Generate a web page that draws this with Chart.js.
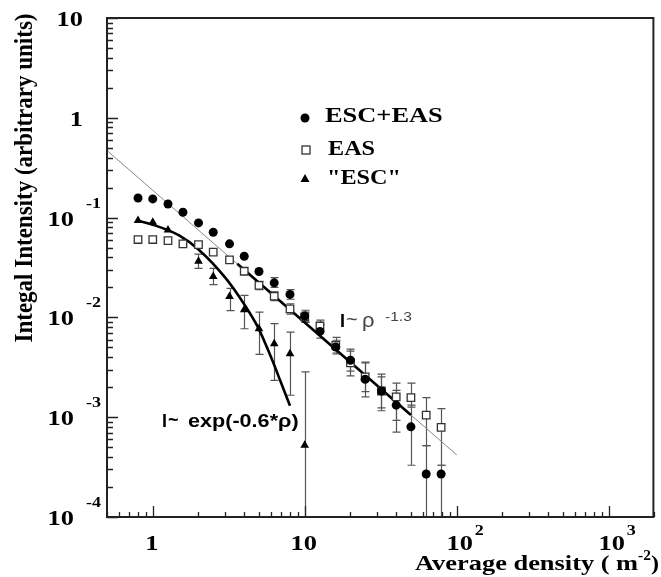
<!DOCTYPE html>
<html>
<head>
<meta charset="utf-8">
<script src="https://cdn.jsdelivr.net/npm/chart.js@4.4.1/dist/chart.umd.min.js"></script>
<style>
  html, body { margin: 0; padding: 0; background: #fff; }
</style>
</head>
<body>
<canvas id="chart" width="661" height="577"></canvas>
<script>
// average density bins (m^-2)
const densities = [0.8, 1.0, 1.26, 1.58, 2.0, 2.5, 3.2, 4.0, 5.0, 6.3, 8.0, 10, 12.6, 16, 20, 25, 32, 40, 50, 63, 79];

// ESC+EAS (filled circles)
const escEasValues = [0.157, 0.154, 0.137, 0.113, 0.0885, 0.0713, 0.0546, 0.041, 0.0288, 0.0222, 0.017, 0.0103, 0.00724, 0.00505, 0.00372, 0.0024, 0.00183, 0.00132, 0.0008, 0.00027, 0.00027];
const escEasLow  = [null, null, null, null, null, null, null, null, null, 0.020, 0.0152, 0.0089, 0.0062, 0.0043, 0.0029, 0.0016, 0.00116, 0.00093, 0.00033, 1e-6, 1e-6];
const escEasHigh = [null, null, null, null, null, null, null, null, null, 0.025, 0.019, 0.0118, 0.0085, 0.0059, 0.0048, 0.00357, 0.00253, 0.00186, 0.00132, 0.00052, 0.00033];

// EAS (open squares)
const easValues = [0.0603, 0.0603, 0.0589, 0.0546, 0.0537, 0.045, 0.0377, 0.029, 0.0209, 0.0163, 0.0122, 0.0101, 0.0082, 0.00525, 0.0035, 0.00253, 0.00183, 0.0016, 0.00157, 0.00105, 0.00079];
const easLow  = [null, null, null, null, null, null, null, null, 0.019, 0.0147, 0.0108, 0.009, 0.0072, 0.0044, 0.0026, 0.0018, 0.00124, 0.00071, 0.00126, 0.00052, 0.00033];
const easHigh = [null, null, null, null, null, null, null, null, 0.023, 0.018, 0.0137, 0.0113, 0.0094, 0.0063, 0.0046, 0.0035, 0.0027, 0.0022, 0.0022, 0.00157, 0.00122];

// "ESC" (triangles)
const escDensities = [0.8, 1.0, 1.26, 1.58, 2.0, 2.5, 3.2, 4.0, 5.0, 6.3, 8.0, 10];
const escValues = [0.0933, 0.0898, 0.0753, 0.0546, 0.0366, 0.0257, 0.0162, 0.0119, 0.0077, 0.00546, 0.00433, 0.000525];
const escLow  = [null, null, null, null, 0.031, 0.0213, 0.0117, 0.0077, 0.00427, 0.00234, 0.00166, 1e-6];
const escHigh = [null, null, null, null, 0.043, 0.031, 0.0195, 0.0166, 0.0113, 0.00865, 0.00713, 0.00284];

// fitted curves
const powerLawX = [0.5, 100];
const powerLawY = [0.47, 0.00042];
const powerLawBoldX = [3.6, 50];
const powerLawBoldY = [0.0345, 0.00105];
const expFitX = [0.8, 1, 1.5, 2, 3, 4, 5, 6, 7, 8];
const expFitY = [0.093, 0.085, 0.066, 0.048, 0.025, 0.0135, 0.0076, 0.0040, 0.0022, 0.0013];

// tick labels
const xTicks = [1, 10, 100, 1000];
const xTickBase = ['1', '10', '10', '10'];
const xTickExp = ['', '', '2', '3'];
const yTicks = [10, 1, 0.1, 0.01, 0.001, 0.0001];
const yTickBase = ['10', '1', '10', '10', '10', '10'];
const yTickExp = ['', '', '-1', '-2', '-3', '-4'];

const SERIF = "'Liberation Serif', 'Times New Roman', serif";
const SANS = "'Liberation Sans', Arial, sans-serif";

function pts(xs, ys) {
    return xs.map((x, i) => ({ x: x, y: ys[i] }));
}

function txt(ctx, str, x, y, font, o) {
    o = o || {};
    ctx.save();
    ctx.translate(x, y);
    if (o.rot) ctx.rotate(o.rot);
    ctx.scale(o.sx || 1, o.sy || 1);
    ctx.font = font;
    ctx.fillStyle = o.color || '#000';
    ctx.textAlign = o.align || 'left';
    ctx.textBaseline = o.baseline || 'alphabetic';
    ctx.fillText(str, 0, 0);
    ctx.restore();
}

function textWidth(ctx, str, font, sx) {
    ctx.save();
    ctx.font = font;
    const w = ctx.measureText(str).width * (sx || 1);
    ctx.restore();
    return w;
}

const errorSets = [
    { xs: densities, low: escEasLow, high: escEasHigh },
    { xs: densities, low: easLow, high: easHigh },
    { xs: escDensities, low: escLow, high: escHigh }
];

const decor = {
    id: 'decor',
    beforeDatasetsDraw(chart) {
        const ctx = chart.ctx, a = chart.chartArea;
        const xs = chart.scales.x, ys = chart.scales.y;
        ctx.save();
        ctx.beginPath();
        ctx.rect(a.left, a.top, a.right - a.left, a.bottom - a.top);
        ctx.clip();
        ctx.strokeStyle = '#555';
        ctx.lineWidth = 1.2;
        errorSets.forEach(s => {
            s.xs.forEach((d, i) => {
                if (s.low[i] == null) return;
                const px = Math.round(xs.getPixelForValue(d)) + 0.5;
                const y1 = ys.getPixelForValue(s.low[i]);
                const y2 = ys.getPixelForValue(s.high[i]);
                ctx.beginPath();
                ctx.moveTo(px, y1); ctx.lineTo(px, y2);
                ctx.moveTo(px - 4, y2); ctx.lineTo(px + 4, y2);
                if (y1 < a.bottom) { ctx.moveTo(px - 4, y1); ctx.lineTo(px + 4, y1); }
                ctx.stroke();
            });
        });
        ctx.restore();
    },
    afterDraw(chart) {
        const ctx = chart.ctx, a = chart.chartArea;
        const xs = chart.scales.x, ys = chart.scales.y;
        ctx.save();
        // frame
        ctx.strokeStyle = '#222';
        ctx.lineWidth = 2;
        ctx.strokeRect(a.left, a.top, a.right - a.left - 1, a.bottom - a.top);
        // inward ticks
        ctx.lineWidth = 1.3;
        ctx.beginPath();
        for (let e = -1; e <= 3; e++) {
            for (let m = 1; m <= 9; m++) {
                const v = m * Math.pow(10, e);
                if (v < 0.5 || v > 2000) continue;
                const px = Math.round(xs.getPixelForValue(v)) + 0.5;
                const len = m === 1 ? 11 : 5;
                ctx.moveTo(px, a.bottom); ctx.lineTo(px, a.bottom - len);
            }
        }
        for (let e = -4; e <= 1; e++) {
            for (let m = 1; m <= 9; m++) {
                const v = m * Math.pow(10, e);
                if (v < 0.0001 || v > 10) continue;
                const py = Math.round(ys.getPixelForValue(v)) + 0.5;
                const len = m === 1 ? 11 : 6;
                ctx.moveTo(a.left, py); ctx.lineTo(a.left + len, py);
            }
        }
        ctx.stroke();

        // tick labels
        const tickFont = 'bold 22px ' + SERIF;
        const expFont = 'bold 15px ' + SERIF;
        xTicks.forEach((v, i) => {
            const px = xs.getPixelForValue(v);
            if (xTickExp[i]) {
                txt(ctx, xTickBase[i], px + 3, 550, tickFont, { align: 'center', sx: 1.2 });
                txt(ctx, xTickExp[i], px + 18, 535, expFont, { sx: 1.2 });
            } else {
                txt(ctx, xTickBase[i], px - 1, 550, tickFont, { align: 'center', sx: 1.2 });
            }
        });
        yTicks.forEach((v, i) => {
            const py = ys.getPixelForValue(v);
            if (yTickExp[i]) {
                txt(ctx, yTickBase[i], 74, py + 8, tickFont, { align: 'right', sx: 1.2 });
                txt(ctx, yTickExp[i], 86, py - 10, expFont, { sx: 1.2 });
            } else {
                txt(ctx, yTickBase[i], 83, py + 8, tickFont, { align: 'right', sx: 1.2 });
            }
        });

        // axis titles
        txt(ctx, 'Integal Intensity (arbitrary units)', 32, 178, 'bold 23px ' + SERIF,
            { rot: -Math.PI / 2, align: 'center', sy: 1.1 });
        const tFont = 'bold 22px ' + SERIF, supFont = 'bold 14px ' + SERIF;
        const w1 = textWidth(ctx, 'Average density ( m', tFont, 1.2);
        const w2 = textWidth(ctx, '-2', supFont, 1.1);
        const w3 = textWidth(ctx, ')', tFont, 1.1);
        const x0 = 659 - w1 - w2 - w3;
        txt(ctx, 'Average density ( m', x0, 570, tFont, { sx: 1.2 });
        txt(ctx, '-2', x0 + w1, 560, supFont, { sx: 1.1 });
        txt(ctx, ')', x0 + w1 + w2, 570, tFont, { sx: 1.1 });

        // legend
        ctx.fillStyle = '#000';
        ctx.beginPath(); ctx.arc(305, 118, 4.5, 0, Math.PI * 2); ctx.fill();
        ctx.strokeStyle = '#333'; ctx.lineWidth = 1.3;
        ctx.strokeRect(302, 146, 8, 8);
        ctx.beginPath(); ctx.moveTo(305, 174); ctx.lineTo(309.5, 182); ctx.lineTo(300.5, 182); ctx.closePath(); ctx.fill();
        const legFont = 'bold 22px ' + SERIF;
        txt(ctx, 'ESC+EAS', 325, 122, legFont, { sx: 1.2 });
        txt(ctx, 'EAS', 328, 155, legFont, { sx: 1.1 });
        txt(ctx, '"ESC"', 327, 184, legFont, { sx: 1.1 });

        // fit annotations
        txt(ctx, 'I', 340, 327, 'bold 18px ' + SANS);
        txt(ctx, '~', 346, 326, '20px ' + SANS, { color: '#444' });
        txt(ctx, 'ρ', 362, 327, '20px ' + SANS, { color: '#444', sx: 1.1 });
        txt(ctx, '-1.3', 385, 321, '13px ' + SANS, { color: '#444', sx: 1.2 });
        txt(ctx, 'I', 162, 427, 'bold 18px ' + SANS);
        txt(ctx, '~', 168, 426, 'bold 18px ' + SANS);
        txt(ctx, 'exp(-0.6*ρ)', 188, 427, 'bold 18px ' + SANS, { sx: 1.2 });
        ctx.restore();
    }
};

new Chart(document.getElementById('chart'), {
    type: 'scatter',
    data: {
        datasets: [
            {
                label: 'ESC+EAS',
                data: pts(densities, escEasValues),
                pointStyle: 'circle', pointRadius: 4.5,
                backgroundColor: '#000', borderColor: '#000', borderWidth: 0
            },
            {
                label: 'EAS',
                data: pts(densities, easValues),
                pointStyle: 'rect', pointRadius: 5.3,
                backgroundColor: '#fff', borderColor: '#333', borderWidth: 1.3
            },
            {
                label: '"ESC"',
                data: pts(escDensities, escValues),
                pointStyle: 'triangle', pointRadius: 5,
                backgroundColor: '#000', borderColor: '#000', borderWidth: 0
            },
            {
                label: 'power law bold',
                data: pts(powerLawBoldX, powerLawBoldY),
                showLine: true, pointRadius: 0,
                borderColor: '#000', borderWidth: 2.6
            },
            {
                label: 'power law',
                data: pts(powerLawX, powerLawY),
                showLine: true, pointRadius: 0,
                borderColor: '#888', borderWidth: 1
            },
            {
                label: 'exp fit',
                data: pts(expFitX, expFitY),
                showLine: true, pointRadius: 0,
                cubicInterpolationMode: 'monotone',
                borderColor: '#000', borderWidth: 2.6
            }
        ]
    },
    options: {
        responsive: false,
        animation: false,
        layout: { padding: { left: 107, right: 1, top: 18, bottom: 60 } },
        plugins: { legend: { display: false }, tooltip: { enabled: false } },
        scales: {
            x: { type: 'logarithmic', min: 0.5, max: 2000, display: false },
            y: { type: 'logarithmic', min: 0.0001, max: 10, display: false }
        }
    },
    plugins: [decor]
});
</script>
</body>
</html>
